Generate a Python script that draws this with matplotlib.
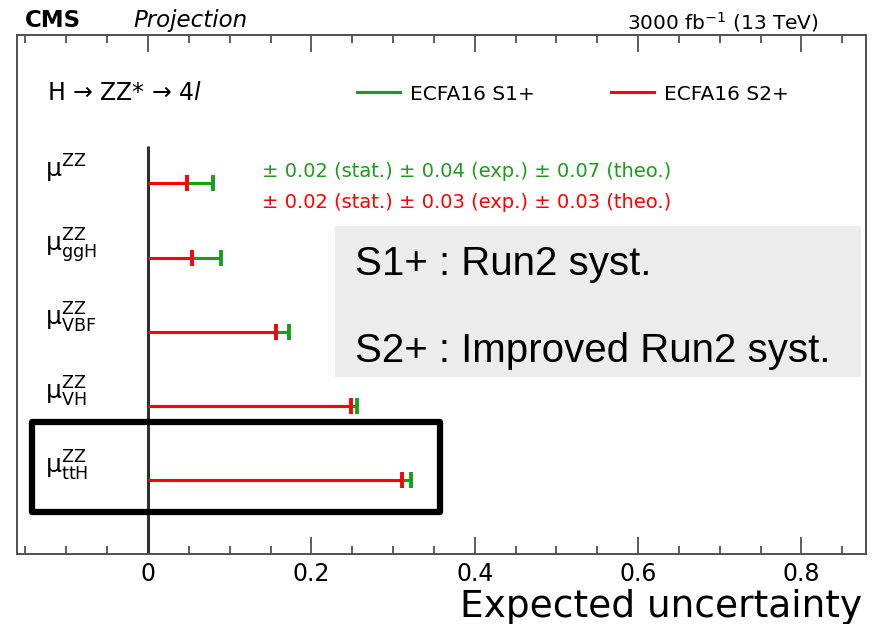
import matplotlib
matplotlib.use("Agg")
import matplotlib.pyplot as plt
from matplotlib.lines import Line2D
from matplotlib.patches import Rectangle
from matplotlib.ticker import MultipleLocator

plt.rcParams['font.family'] = ['DejaVu Sans']
plt.rcParams['mathtext.fontset'] = 'dejavusans'

# ---- data ----
categories = [r'$\mathrm{\mu}^{\mathrm{ZZ}}$',
              r'$\mathrm{\mu}^{\mathrm{ZZ}}_{\mathrm{ggH}}$',
              r'$\mathrm{\mu}^{\mathrm{ZZ}}_{\mathrm{VBF}}$',
              r'$\mathrm{\mu}^{\mathrm{ZZ}}_{\mathrm{VH}}$',
              r'$\mathrm{\mu}^{\mathrm{ZZ}}_{\mathrm{ttH}}$']
row_pos = [5, 4, 3, 2, 1]
s1_values = [0.080, 0.089, 0.173, 0.256, 0.322]   # ECFA16 S1+
s2_values = [0.048, 0.054, 0.157, 0.249, 0.311]   # ECFA16 S2+
s1_label = 'ECFA16 S1+'
s2_label = 'ECFA16 S2+'
s1_breakdown = '± 0.02 (stat.) ± 0.04 (exp.) ± 0.07 (theo.)'
s2_breakdown = '± 0.02 (stat.) ± 0.03 (exp.) ± 0.03 (theo.)'
xticks = [0, 0.2, 0.4, 0.6, 0.8]
xticklabels = ['0', '0.2', '0.4', '0.6', '0.8']

GREEN = '#1a9e1a'
RED = '#ff0000'
FRAME = '#505050'

fig = plt.figure(figsize=(8.91, 6.24), dpi=100)
ax = fig.add_axes([17.3/891, 1-554/624, (866-17.3)/891, (554-35.3)/624])
ax.set_xlim(-0.16, 0.879)
ax.set_ylim(0, 7)

for sp in ax.spines.values():
    sp.set_color(FRAME)
    sp.set_linewidth(1.4)

ax.set_xticks(xticks)
ax.set_xticklabels(xticklabels)
ax.xaxis.set_minor_locator(MultipleLocator(0.05))
ax.tick_params(axis='x', which='both', direction='in', top=True, bottom=True,
               color=FRAME, width=1.3, labelsize=17, pad=6)
ax.tick_params(axis='x', which='major', length=12)
ax.tick_params(axis='x', which='minor', length=6)
ax.set_yticks([])

# zero line
ax.vlines(0, 0, 5.5, color='#303030', lw=2.2, zorder=2)

# bars
lw = 2.2
ax.hlines(row_pos, 0, s1_values, color=GREEN, lw=lw, zorder=3)
ax.hlines(row_pos, 0, s2_values, color=RED, lw=lw, zorder=4)
ax.plot(s1_values, row_pos, ls='none', marker='|', ms=12, mew=2.8, color=GREEN, zorder=5)
ax.plot(s2_values, row_pos, ls='none', marker='|', ms=12, mew=2.8, color=RED, zorder=6)

# category labels
for lab, y in zip(categories, row_pos):
    ax.text(-0.126, y + 0.08, lab, ha='left', va='baseline', fontsize=18)

# breakdown text
ax.text((262-147.7)/818, (554-177)/74.1, s1_breakdown, color=GREEN, fontsize=14,
        ha='left', va='baseline')
ax.text((262-147.7)/818, (554-208)/74.1, s2_breakdown, color=RED, fontsize=14,
        ha='left', va='baseline')

# gray box with scenario description
ax.add_patch(Rectangle(((335-147.7)/818, (554-377)/74.1), (862-335)/818, (377-226)/74.1,
                       facecolor='#ececec', edgecolor='none', zorder=1))
ax.text((355-147.7)/818, (554-275)/74.1, 'S1+ : Run2 syst.', fontsize=29,
        family='Liberation Sans', ha='left', va='baseline', zorder=7)
ax.text((355-147.7)/818, (554-362)/74.1, 'S2+ : Improved Run2 syst.', fontsize=29,
        family='Liberation Sans', ha='left', va='baseline', zorder=7)

# highlight rectangle around ttH
ax.add_patch(Rectangle(((32-147.7)/818, (554-512)/74.1), (440-32)/818, (512-422)/74.1,
                       facecolor='none', edgecolor='black', lw=4.5, joinstyle='round',
                       zorder=8))

# process label
ax.text((47-147.7)/818, (554-100.5)/74.1, 'H → ZZ* → 4$l$',
        fontsize=17, ha='left', va='baseline')

# legend
handles = [Line2D([], [], color=GREEN, lw=lw), Line2D([], [], color=RED, lw=lw)]
ax.legend(handles, [s1_label, s2_label], ncol=2, frameon=False, fontsize=14.5,
          loc='center left', bbox_to_anchor=((357-17.3)/(866-17.3), (554-94)/518.7),
          borderpad=0, borderaxespad=0, handlelength=2.15, handletextpad=0.5,
          columnspacing=3.75)

# header
fig.text(25/891, 1-27.3/624, 'CMS', fontsize=16.5, fontweight='bold', ha='left', va='baseline')
fig.text(133/891, 1-27.3/624, 'Projection', fontsize=16.5, fontstyle='italic', ha='left', va='baseline')
fig.text(819/891, 1-29/624, r'3000 fb$^{-1}$ (13 TeV)', fontsize=14.5, ha='right', va='baseline')

# x axis title
fig.text(862/891, 1-617/624, 'Expected uncertainty', fontsize=27, ha='right', va='baseline')

fig.savefig('out.png', dpi=100)
